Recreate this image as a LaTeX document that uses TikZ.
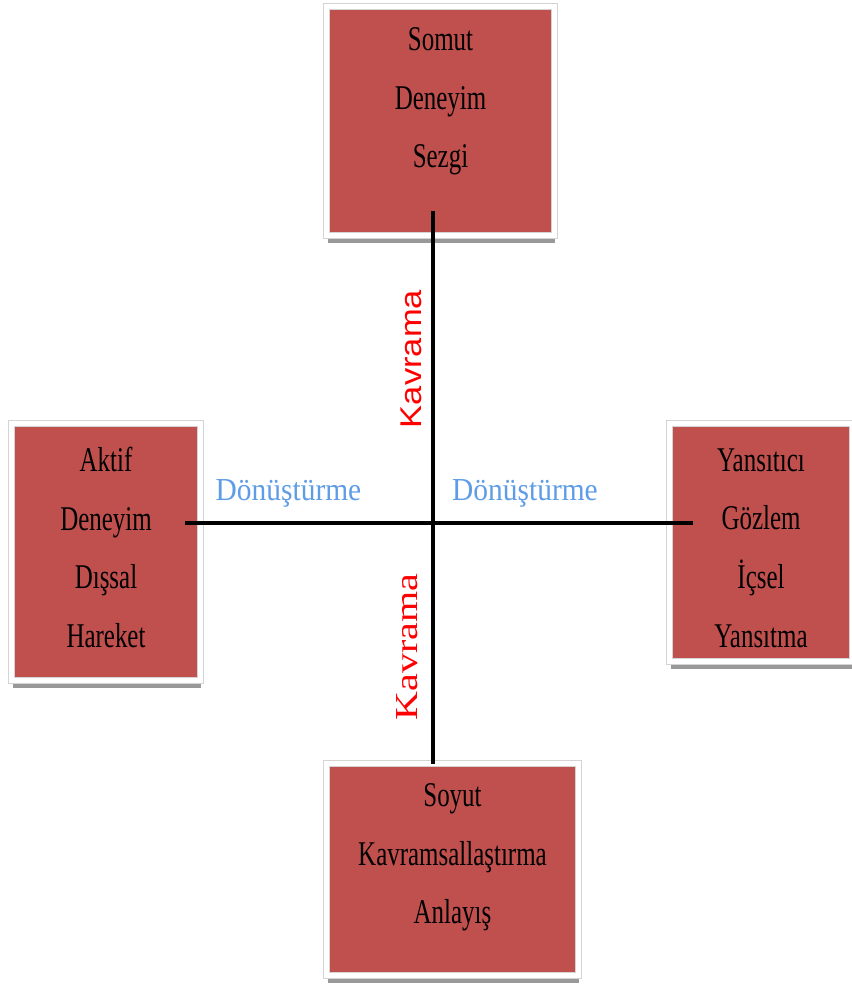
\documentclass[tikz,border=0pt]{standalone}
\usepackage{fontspec}
\usetikzlibrary{shadows,positioning}
\newfontfamily\boxfont[FakeStretch=0.72]{Liberation Serif}
\newfontfamily\turnfont[FakeStretch=0.92]{Liberation Serif}
\newfontfamily\graspsans[FakeStretch=1.15]{Liberation Sans}
\newfontfamily\graspserif[FakeStretch=1.25]{Liberation Serif}
\definecolor{BoxRed}{HTML}{C0504D}
\definecolor{FrameGray}{HTML}{D4D4D4}
\definecolor{TurnBlue}{HTML}{5E9CE6}
\definecolor{GraspRed}{HTML}{FF0000}

\begin{document}
\begin{tikzpicture}[x=0.75pt,y=-0.75pt,
    box/.style={rectangle,inner sep=0pt,fill=BoxRed,draw=FrameGray,line width=0.6pt,
      double=white,double distance=3.75pt,
      drop shadow={shadow xshift=0.8pt,shadow yshift=-5.5pt,fill=black!40,opacity=1}},
    boxtext/.style={align=center,text=black,font=\boxfont\fontsize{26}{44}\selectfont},
    axis/.style={line width=3pt,black},
    turn/.style={text=TurnBlue,anchor=base,font=\turnfont\fontsize{24}{28}\selectfont},
    grasp/.style={text=GraspRed,rotate=90}
  ]
  \useasboundingbox (0,0) rectangle (851,987);
  % the four stages
  \node[box,minimum width=170.7pt,minimum height=171.45pt] (somut) at (440.5,121) {};
  \node[box,minimum width=141.45pt,minimum height=192.45pt] (aktif) at (106,552) {};
  \node[box,minimum width=136.95pt,minimum height=178.2pt] (yansitici) at (761,542.5) {};
  \node[box,minimum width=188.7pt,minimum height=158.7pt] (soyut) at (452.5,869.5) {};
  \node[boxtext] (somutText) at (440.5,101.5) {Somut\\Deneyim\\Sezgi};
  \node[boxtext] (aktifText) at (106,547.5) {Aktif\\Deneyim\\Dışsal\\Hareket};
  \node[boxtext] (yansiticiText) at (761,548) {Yansıtıcı\\Gözlem\\İçsel\\Yansıtma};
  \node[boxtext] (soyutText) at (452.5,857.5) {Soyut\\Kavramsallaştırma\\Anlayış};
  % axes
  \coordinate (vtop) at (432.5,211);
  \coordinate (vbot) at (432.5,764);
  \coordinate (hleft) at (185,523);
  \coordinate (hright) at (693,523);
  \draw[axis] (vtop) -- (vbot);
  \draw[axis] (hleft) -- (hright);
  % axis labels
  \node[grasp,font=\graspsans\fontsize{22.5}{26}\selectfont] (graspTop) at (411,359) {Kavrama};
  \node[grasp,font=\graspserif\fontsize{24}{28}\selectfont] (graspBot) at (407,647) {Kavrama};
  \node[turn] (turnLeft) at (288.5,500) {Dönüştürme};
  \node[turn] (turnRight) at (525,500) {Dönüştürme};
\end{tikzpicture}
\end{document}
